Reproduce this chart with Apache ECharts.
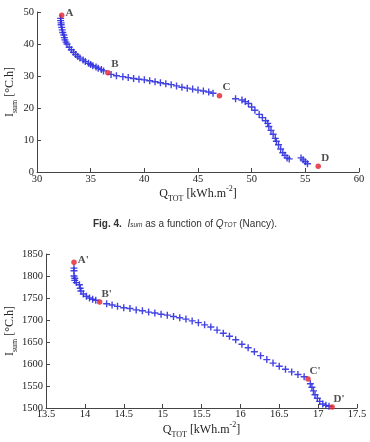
<!DOCTYPE html>
<html>
<head>
<meta charset="utf-8">
<script src="https://cdn.jsdelivr.net/npm/echarts@6/dist/echarts.min.js"></script>
<style>
  html, body { margin: 0; padding: 0; background: #fff; }
  #chart { width: 370px; height: 442px; }
</style>
</head>
<body>
<div id="chart"></div>
<script>
// Nancy (top)
const nancyQ = [32.2, 32.2, 32.25, 32.25, 32.3, 32.35, 32.4, 32.5, 32.55, 32.6, 32.7, 32.8, 33.0, 33.2, 33.4, 33.6, 33.8, 34.0, 34.3, 34.5, 34.8, 35.0, 35.2, 35.5, 35.7, 36.0, 36.2,
  36.9, 37.4, 38.0, 38.5, 39.0, 39.5, 40.0, 40.5, 41.0, 41.5, 42.0, 42.5, 43.0, 43.5, 44.0, 44.5, 45.0, 45.5, 46.0, 46.4,
  48.5, 49.1, 49.4, 49.7, 50.0, 50.3, 50.7, 51.0, 51.3, 51.5, 51.6, 51.8, 52.0, 52.2, 52.3, 52.5, 52.7, 52.9, 53.1, 53.3, 53.5, 54.6, 54.8, 55.0, 55.2];
const nancyI = [48.0, 47.3, 46.6, 46.0, 45.2, 44.4, 43.6, 42.8, 42.0, 41.3, 40.6, 40.0, 39.0, 38.2, 37.4, 36.7, 36.1, 35.6, 35.0, 34.5, 34.0, 33.6, 33.2, 32.8, 32.4, 32.0, 31.6,
  30.5, 30.1, 29.8, 29.5, 29.2, 29.0, 28.8, 28.5, 28.2, 27.9, 27.6, 27.3, 26.9, 26.5, 26.2, 25.9, 25.6, 25.3, 25.0, 24.6,
  22.9, 22.5, 22.0, 21.4, 20.3, 19.3, 18.0, 17.0, 16.0, 15.2, 14.2, 13.0, 11.8, 10.5, 9.6, 8.5, 7.2, 6.0, 5.2, 4.4, 4.1, 4.4, 3.8, 3.2, 2.6];
const nancyKeyNames = ['A', 'B', 'C', 'D'];
const nancyKeyQ = [32.3, 36.6, 47.0, 56.2];
const nancyKeyI = [49.0, 31.0, 23.8, 1.8];

// second site (bottom)
const siteQ = [13.86, 13.86, 13.86, 13.87, 13.87, 13.89, 13.93, 13.94, 13.95, 13.98, 14.02, 14.06, 14.10, 14.14,
  14.28, 14.35, 14.42, 14.50, 14.58, 14.66, 14.74, 14.82, 14.90, 14.98, 15.06, 15.14, 15.22, 15.30, 15.38, 15.46, 15.54, 15.62, 15.70, 15.78, 15.86, 15.94,
  16.02, 16.10, 16.18, 16.26, 16.34, 16.42, 16.50, 16.58, 16.66, 16.74, 16.82,
  16.90, 16.92, 16.94, 16.96, 16.99, 17.02, 17.06, 17.10, 17.14];
const siteI = [1818, 1812, 1800, 1795, 1790, 1785, 1780, 1772, 1766, 1759, 1754, 1750, 1747, 1745,
  1737, 1734, 1731, 1728, 1726, 1723, 1721, 1718, 1716, 1713, 1711, 1708, 1705, 1702, 1698, 1694, 1689, 1684, 1677, 1670, 1663, 1655,
  1645, 1637, 1628, 1619, 1610, 1602, 1595, 1588, 1582, 1576, 1571,
  1555, 1547, 1539, 1530, 1522, 1515, 1509, 1506, 1504];
const siteKeyNames = ["A'", "B'", "C'", "D'"];
const siteKeyQ = [13.86, 14.19, 16.87, 17.18];
const siteKeyI = [1831, 1741, 1566, 1502];

const serif = '"Liberation Serif", "DejaVu Serif", serif';
const sans = '"Liberation Sans", Arial, sans-serif';
const axisColor = '#444';
const blue = '#2f2fe0';
const red = '#e2202c';
const plus = 'path://M4,0H6V4H10V6H6V10H4V6H0V4H4Z';

const nameRich = {
  m: { fontFamily: serif, fontSize: 12, color: '#222', lineHeight: 18 },
  s: { fontFamily: serif, fontSize: 8, color: '#222', lineHeight: 8, verticalAlign: 'bottom' },
  p: { fontFamily: serif, fontSize: 8, color: '#222', lineHeight: 8, verticalAlign: 'top' }
};

function axisBase(idx, margin) {
  return {
    gridIndex: idx,
    type: 'value',
    splitLine: { show: false },
    axisLine: { show: true, lineStyle: { color: axisColor, width: 1 } },
    axisTick: { show: true, inside: true, length: 4, lineStyle: { color: axisColor } },
    axisLabel: {
      fontFamily: serif, fontSize: 10.5, color: '#222', margin: margin,
      showMinLabel: true, showMaxLabel: true,
      formatter: v => String(v)
    },
    nameLocation: 'middle',
    nameMoveOverlap: false,
    nameTextStyle: { rich: nameRich }
  };
}

function zip(xs, ys) {
  return xs.map((x, i) => [x, ys[i]]);
}

function keySeries(idx, xs, ys, names) {
  return {
    type: 'scatter', xAxisIndex: idx, yAxisIndex: idx,
    symbol: 'circle', symbolSize: 5.5,
    itemStyle: { color: red },
    data: xs.map((x, i) => {
      const item = { name: names[i], value: [x, ys[i]] };
      // the first letter sits beside its point, the others above-right
      if (i === 0) item.label = { position: 'right', offset: [-4, -2] };
      return item;
    }),
    label: {
      show: true, position: 'top', offset: [7, 5],
      formatter: p => p.name,
      fontFamily: serif, fontWeight: 'bold', fontSize: 11, color: '#222'
    },
    z: 5
  };
}

const chart = echarts.init(document.getElementById('chart'), null, { renderer: 'canvas' });
chart.setOption({
  animation: false,
  backgroundColor: '#fff',
  title: {
    text: '{b|Fig. 4.}  {i|I}{is|sum} as a function of {i|Q}{is|TOT} (Nancy).',
    left: 'center', top: 214,
    textStyle: {
      fontFamily: sans, fontSize: 10, fontWeight: 'normal', color: '#333',
      rich: {
        b: { fontFamily: sans, fontSize: 10, fontWeight: 'bold', color: '#333' },
        i: { fontFamily: sans, fontSize: 10, fontStyle: 'italic', color: '#333' },
        is: { fontFamily: sans, fontSize: 6.5, fontStyle: 'italic', color: '#333', verticalAlign: 'bottom', lineHeight: 6 }
      }
    }
  },
  grid: [
    { left: 37, right: 11, top: 12, height: 160, containLabel: false, outerBoundsMode: 'none' },
    { left: 46, right: 13, top: 254, height: 154, containLabel: false, outerBoundsMode: 'none' }
  ],
  xAxis: [
    Object.assign(axisBase(0, 2), { min: 30, max: 60, interval: 5, name: '{m|Q}{s|TOT}{m| [kWh.m}{p|-2}{m|]}', nameGap: 13 }),
    Object.assign(axisBase(1, 1), { min: 13.5, max: 17.5, interval: 0.5, name: '{m|Q}{s|TOT}{m| [kWh.m}{p|-2}{m|]}', nameGap: 13 })
  ],
  yAxis: [
    Object.assign(axisBase(0, 3), { min: 0, max: 50, interval: 10, name: '{m|I}{s|sum}{m| [°C.h]}', nameGap: 18 }),
    Object.assign(axisBase(1, 3), { min: 1500, max: 1850, interval: 50, name: '{m|I}{s|sum}{m| [°C.h]}', nameGap: 27 })
  ],
  series: [
    {
      type: 'scatter', xAxisIndex: 0, yAxisIndex: 0,
      symbol: plus, symbolSize: 7,
      itemStyle: { color: blue, opacity: 0.9 },
      data: zip(nancyQ, nancyI)
    },
    keySeries(0, nancyKeyQ, nancyKeyI, nancyKeyNames),
    {
      type: 'scatter', xAxisIndex: 1, yAxisIndex: 1,
      symbol: plus, symbolSize: 7,
      itemStyle: { color: blue, opacity: 0.9 },
      data: zip(siteQ, siteI)
    },
    keySeries(1, siteKeyQ, siteKeyI, siteKeyNames)
  ]
});
</script>
</body>
</html>
